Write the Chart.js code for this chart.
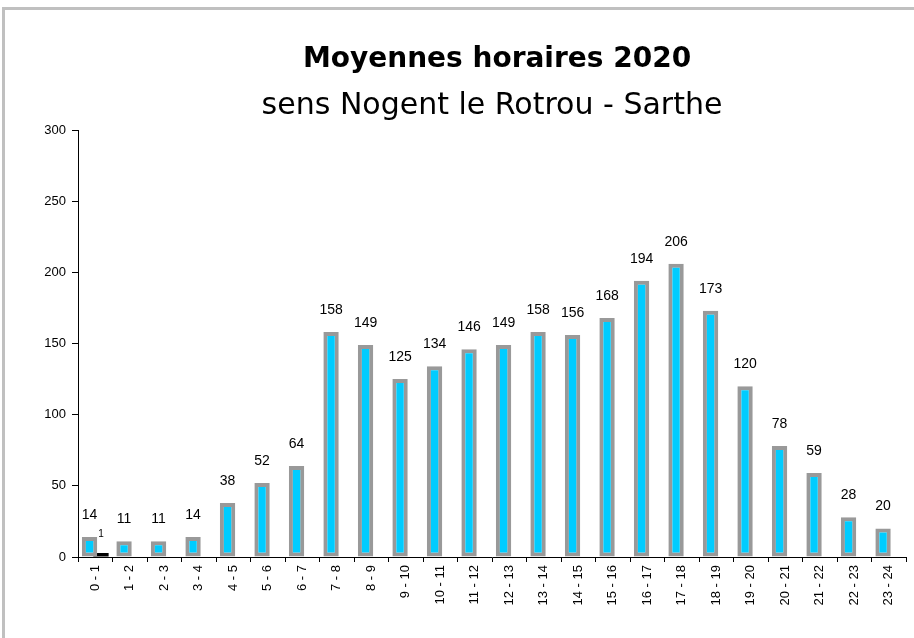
<!DOCTYPE html>
<html lang="fr">
<head>
  <meta charset="UTF-8">
  <title>Moyennes horaires 2020</title>
  <script src="https://cdn.jsdelivr.net/npm/chart.js"></script>
  <style>
    body {
      margin: 0;
      background: #ffffff;
    }
    .frame {
      position: relative;
      width: 914px;
      height: 638px;
      overflow: hidden;
    }
    .frame::before {
      content: '';
      position: absolute;
      left: 2px;
      top: 7px;
      right: -10px;
      bottom: -10px;
      border-left: 3px solid #c0c0c0;
      border-top: 3px solid #c0c0c0;
    }
    canvas {
      position: absolute;
      left: 0;
      top: 0;
    }
  </style>
</head>
<body>
  <div class="frame">
    <canvas id="hourChart" width="914" height="638"></canvas>
  </div>

  <script>
    const hours = ['0 - 1', '1 - 2', '2 - 3', '3 - 4', '4 - 5', '5 - 6', '6 - 7', '7 - 8',
      '8 - 9', '9 - 10', '10 - 11', '11 - 12', '12 - 13', '13 - 14', '14 - 15', '15 - 16',
      '16 - 17', '17 - 18', '18 - 19', '19 - 20', '20 - 21', '21 - 22', '22 - 23', '23 - 24'];
    const moyennes = [14, 11, 11, 14, 38, 52, 64, 158, 149, 125, 134, 146, 149, 158, 156, 168,
      194, 206, 173, 120, 78, 59, 28, 20];
    const autre = [1, null, null, null, null, null, null, null, null, null, null, null,
      null, null, null, null, null, null, null, null, null, null, null, null];
    const yTicks = [0, 50, 100, 150, 200, 250, 300];

    // value labels above bars + the two title lines
    const labelsPlugin = {
      id: 'labels',
      afterDatasetsDraw(chart) {
        const ctx = chart.ctx;
        ctx.save();
        ctx.fillStyle = '#000';
        ctx.textAlign = 'center';
        ctx.textBaseline = 'middle';
        chart.data.datasets.forEach((ds, i) => {
          const meta = chart.getDatasetMeta(i);
          meta.data.forEach((bar, j) => {
            const v = ds.data[j];
            if (v == null) return;
            if (i === 0) {
              ctx.font = '14px "Liberation Sans", Arial, sans-serif';
              ctx.fillText(String(v), bar.x, bar.y - 22);
            } else {
              ctx.font = '10px "Liberation Sans", Arial, sans-serif';
              ctx.fillText(String(v), bar.x, bar.y - 19);
            }
          });
        });
        ctx.font = 'bold 28px "DejaVu Sans", sans-serif';
        ctx.fillText('Moyennes horaires 2020', 497, 60);
        ctx.font = '30px "DejaVu Sans", sans-serif';
        ctx.fillText('sens Nogent le Rotrou - Sarthe', 492, 106);
        ctx.restore();
      }
    };

    new Chart(document.getElementById('hourChart'), {
      type: 'bar',
      data: {
        labels: hours,
        datasets: [{
          label: 'Moyennes',
          data: moyennes,
          backgroundColor: '#00ccff',
          borderColor: '#999999',
          borderWidth: 4,
          borderSkipped: false,
          categoryPercentage: 0.66,
          barPercentage: 1.35
        }, {
          label: 'Autre',
          data: autre,
          backgroundColor: '#000000',
          borderColor: '#000000',
          borderWidth: 0,
          minBarLength: 4,
          categoryPercentage: 0.66,
          barPercentage: 1.35
        }]
      },
      options: {
        responsive: false,
        animation: false,
        layout: { padding: { left: 0, top: 130, right: 8, bottom: 0 } },
        plugins: {
          legend: { display: false },
          title: { display: false },
          tooltip: { enabled: false }
        },
        scales: {
          x: {
            afterFit: s => { s.height = 81; },
            grid: {
              display: true,
              drawOnChartArea: false,
              color: '#000',
              tickLength: 5
            },
            border: { color: '#000', width: 1 },
            ticks: {
              color: '#000',
              minRotation: 90,
              maxRotation: 90,
              autoSkip: false,
              padding: 3,
              font: { family: '"Liberation Sans", Arial, sans-serif', size: 13 }
            }
          },
          y: {
            min: 0,
            max: 300,
            afterFit: s => { s.width = 78; },
            afterBuildTicks: s => { s.ticks = yTicks.map(v => ({ value: v })); },
            grid: {
              drawOnChartArea: false,
              color: '#000',
              tickLength: 6
            },
            border: { color: '#000', width: 1 },
            ticks: {
              color: '#000',
              padding: 6,
              font: { family: '"Liberation Sans", Arial, sans-serif', size: 13 }
            }
          }
        }
      },
      plugins: [labelsPlugin]
    });
  </script>
</body>
</html>
